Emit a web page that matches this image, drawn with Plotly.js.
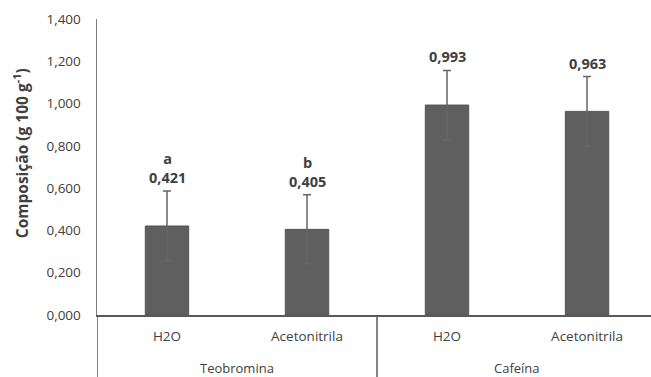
<!DOCTYPE html>
<html><head><meta charset="utf-8">
<script src="https://cdn.plot.ly/plotly-3.0.1.min.js"></script>
<style>body{margin:0;background:#fff}#c{width:651px;height:377px}</style>
</head><body><div id="c"></div>
<script>
const groups = ["Teobromina","Teobromina","Cafeína","Cafeína"];
const solvents = ["H2O","Acetonitrila","H2O","Acetonitrila"];
const values = [0.421, 0.405, 0.993, 0.963];
const errors = [0.165, 0.164, 0.164, 0.165];
const letters = ["a","b","",""];
const yTitle = "Composição (g 100 g<sup>-1</sup>)";

const fnt = "Open Sans, Liberation Sans, sans-serif";
const idx = solvents.map((_, i) => i);
const trace = {
  type: "bar",
  x: idx,
  y: values,
  width: 0.31,
  marker: {color: "#5f5f5f", line: {color: "#555555", width: 1}},
  error_y: {type: "data", array: errors, visible: true, color: "#666666", thickness: 1.5, width: 4},
  hoverinfo: "none"
};
const ann = values.map((v, i) => ({
  x: i, y: v + errors[i], xref: "x", yref: "y",
  text: (letters[i] ? letters[i] + "<br>" : "") + v.toFixed(3).replace(".", ","),
  showarrow: false, yanchor: "bottom", yshift: 2,
  font: {family: fnt, size: 14.5, color: "#404040", weight: "bold"}
}));
const uniq = [...new Set(groups)];
const shapes = [];
uniq.forEach(g => {
  const ids = idx.filter(i => groups[i] === g);
  const mid = (ids[0] + ids[ids.length - 1]) / 2;
  ann.push({x: mid, y: -0.179, xref: "x", yref: "paper", text: g, showarrow: false,
    yanchor: "middle", font: {family: fnt, size: 13, color: "#404040"}});
  shapes.push({type: "line", xref: "x", yref: "paper", x0: ids[0] - 0.5, x1: ids[0] - 0.5,
    y0: 0, y1: -0.22, line: {color: "#595959", width: 1.5}});
});
ann.push({text: yTitle, xref: "paper", yref: "paper", x: -0.137, y: 0.547, textangle: -90,
  showarrow: false, xanchor: "center", yanchor: "middle",
  font: {family: fnt, size: 15.5, color: "#404040", weight: "bold"}});
const layout = {
  width: 651, height: 377,
  margin: {l: 97, r: 0, t: 19, b: 62},
  separators: ",.",
  showlegend: false,
  plot_bgcolor: "#fff", paper_bgcolor: "#fff",
  xaxis: {
    range: [-0.5, 3.457],
    tickvals: idx, ticktext: solvents,
    showline: true, linecolor: "#595959", linewidth: 1.5,
    showgrid: false, zeroline: false, ticks: "",
    ticklabelstandoff: 8,
    tickfont: {family: fnt, size: 13.5, color: "#404040"}
  },
  yaxis: {
    range: [0, 1.4], dtick: 0.2, tickformat: ".3f",
    showline: true, linecolor: "#7f7f7f", linewidth: 1.5,
    showgrid: false, zeroline: false, ticks: "",
    ticklabelstandoff: 12,
    tickfont: {family: fnt, size: 13.5, color: "#404040"}
  },
  annotations: ann,
  shapes: shapes
};
Plotly.newPlot("c", [trace], layout, {staticPlot: true});
</script></body></html>
